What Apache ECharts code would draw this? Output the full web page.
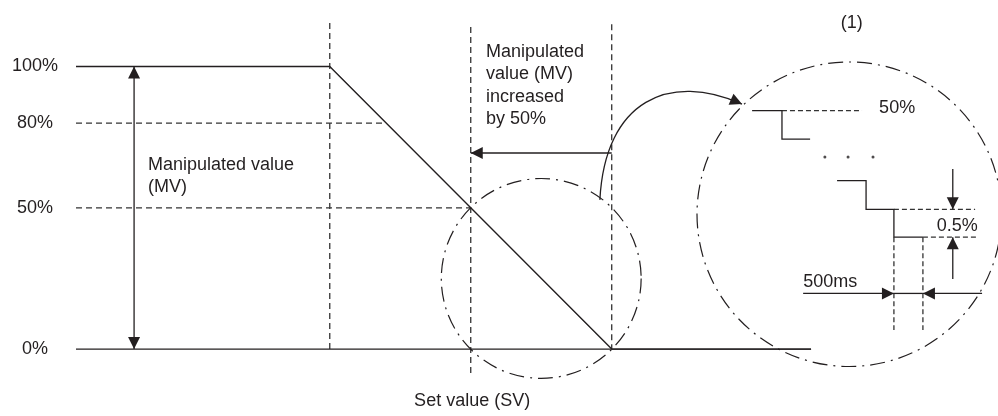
<!DOCTYPE html>
<html>
<head>
<meta charset="utf-8">
<script src="https://cdn.jsdelivr.net/npm/echarts@6/dist/echarts.min.js"></script>
<style>
html, body { margin: 0; padding: 0; background: #fff; }
#chart { width: 998px; height: 416px; }
</style>
</head>
<body>
<div id="chart"></div>
<script>
// ---- main diagram: x = time (ramp starts at 0), y = MV %
var mvTime  = [-90, 0, 100, 170.7];
var mvValue = [100, 100, 0, 0];
var baseTime  = [-90, 170.7];
var baseValue = [0, 0];
var yTicks  = [0, 50, 80, 100];

// dashed guide lines [x1, y1, x2, y2]
var guideMain = [
    [-90, 80, 19, 80],
    [-90, 50, 50, 50],
    [0, 115.4, 0, 0],
    [50, 114, 50, -8.5],
    [100, 115, 100, 0]
];
// arrows [x1, y1, x2, y2, both ends]
var arrowMain = [
    [-69.4, 0, -69.4, 100, 1],
    [100, 69.4, 50, 69.4, 0]
];
// dash-dot circle [cx, cy, r]
var circleMain = [[75, 25, 35.4]];
// curved arrow [x0, y0, cx1, cy1, cx2, cy2, x1, y1]
var curveMain = [[95.8, 52.8, 97.6, 88.2, 120.7, 98.1, 146.2, 86.7]];
// texts [x, y], with strings and alignments
var textMainPos   = [[-64.5, 61.2], [55.4, 93.2], [50.5, -18.4]];
var textMainStr   = ['Manipulated value\n(MV)', 'Manipulated\nvalue (MV)\nincreased\nby 50%', 'Set value (SV)'];
var textMainAlign = ['left', 'left', 'center'];

// ---- inset (1): one unit ~ one step
var stepLines = [
    [[1.90, 8.82], [2.93, 8.82], [2.93, 7.84], [3.90, 7.84]],
    [[4.83, 6.41], [5.83, 6.41], [5.83, 5.42], [6.79, 5.42], [6.79, 4.46], [7.79, 4.46]],
    [[6.79, 2.52], [7.79, 2.52]]
];
var guideInset = [
    [2.93, 8.82, 5.69, 8.82],
    [6.79, 5.42, 9.59, 5.42],
    [7.79, 4.46, 9.72, 4.46],
    [6.79, 4.46, 6.79, 1.26],
    [7.79, 4.46, 7.79, 1.26]
];
var dotsX = [4.41, 5.21, 6.07];
var dotsY = [7.22, 7.22, 7.22];
var arrowInset = [
    [8.82, 6.81, 8.82, 5.42, 0],
    [8.82, 3.02, 8.82, 4.46, 0],
    [3.66, 2.52, 6.79, 2.52, 0],
    [9.83, 2.52, 7.79, 2.52, 0]
];
var circleInset = [[5.25, 5.25, 5.25]];
var textInsetPos   = [[6.28, 8.90], [8.27, 4.86], [3.66, 2.91], [5.34, 11.86]];
var textInsetStr   = ['50%', '0.5%', '500ms', '(1)'];
var textInsetAlign = ['left', 'left', 'left', 'center'];

var ink = '#231f20';
var dashInk = '#333333';
var fontFam = '"Liberation Sans", Arial, sans-serif';

var chart = echarts.init(document.getElementById('chart'));

function zip(xs, ys) {
    var out = [];
    for (var i = 0; i < xs.length; i++) out.push([xs[i], ys[i]]);
    return out;
}

function arrowHead(from, to) {
    var dx = to[0] - from[0], dy = to[1] - from[1];
    var len = Math.sqrt(dx * dx + dy * dy);
    var ux = dx / len, uy = dy / len;
    var L = 12, W = 6;
    var bx = to[0] - ux * L, by = to[1] - uy * L;
    return {
        type: 'polygon',
        shape: { points: [[to[0], to[1]], [bx - uy * W, by + ux * W], [bx + uy * W, by - ux * W]] },
        style: { fill: ink }
    };
}

function segRender(list, dash) {
    return function (params, api) {
        var d = list[params.dataIndex];
        var a = api.coord([d[0], d[1]]), b = api.coord([d[2], d[3]]);
        return {
            type: 'line',
            shape: { x1: a[0], y1: a[1], x2: b[0], y2: b[1] },
            style: { stroke: dashInk, lineWidth: 1.3, lineDash: dash }
        };
    };
}

function arrowRender(list) {
    return function (params, api) {
        var d = list[params.dataIndex];
        var a = api.coord([d[0], d[1]]), b = api.coord([d[2], d[3]]);
        var kids = [{
            type: 'line',
            shape: { x1: a[0], y1: a[1], x2: b[0], y2: b[1] },
            style: { stroke: ink, lineWidth: 1.3 }
        }, arrowHead(a, b)];
        if (d[4]) kids.push(arrowHead(b, a));
        return { type: 'group', children: kids };
    };
}

function circleRender(list) {
    return function (params, api) {
        var d = list[params.dataIndex];
        var c = api.coord([d[0], d[1]]);
        var r = api.size([d[2], d[2]]);
        return {
            type: 'circle',
            shape: { cx: c[0], cy: c[1], r: (r[0] + r[1]) / 2 },
            style: { fill: 'none', stroke: ink, lineWidth: 1.2, lineDash: [15, 6, 2, 6] }
        };
    };
}

function textRender(pos, str, align) {
    return function (params, api) {
        var i = params.dataIndex;
        var p = api.coord(pos[i]);
        return {
            type: 'text',
            x: p[0], y: p[1],
            style: {
                text: str[i], fill: ink, font: '18px ' + fontFam,
                align: align[i], verticalAlign: 'middle', lineHeight: 22.5
            }
        };
    };
}

function polyRender(list) {
    return function (params, api) {
        var pts = list[params.dataIndex].map(function (p) { return api.coord(p); });
        return { type: 'polyline', shape: { points: pts }, style: { stroke: ink, lineWidth: 1.3, fill: 'none' } };
    };
}

function curveRender(params, api) {
    var d = curveMain[params.dataIndex];
    var p0 = api.coord([d[0], d[1]]), c1 = api.coord([d[2], d[3]]);
    var c2 = api.coord([d[4], d[5]]), p1 = api.coord([d[6], d[7]]);
    return {
        type: 'group',
        children: [{
            type: 'bezierCurve',
            shape: { x1: p0[0], y1: p0[1], cpx1: c1[0], cpy1: c1[1], cpx2: c2[0], cpy2: c2[1], x2: p1[0], y2: p1[1] },
            style: { stroke: ink, lineWidth: 1.3, fill: 'none' }
        }, arrowHead(c2, p1)]
    };
}

function hiddenAxis(extra) {
    var ax = {
        type: 'value',
        axisLine: { show: false }, axisTick: { show: false },
        splitLine: { show: false }, axisLabel: { show: false }
    };
    for (var k in extra) ax[k] = extra[k];
    return ax;
}

var option = {
    backgroundColor: '#fff',
    animation: false,
    grid: [
        { left: 76, right: 0, top: 10, bottom: 33, outerBoundsMode: 'none' },
        { left: 697, top: 62, width: 304.5, height: 304.5, outerBoundsMode: 'none' }
    ],
    xAxis: [
        hiddenAxis({ gridIndex: 0, min: -90, max: 237 }),
        hiddenAxis({ gridIndex: 1, min: 0, max: 10.5 })
    ],
    yAxis: [
        hiddenAxis({
            gridIndex: 0, min: -12, max: 120,
            axisLabel: {
                show: true, customValues: yTicks, formatter: '{value}%',
                align: 'center', margin: 41, color: ink, fontSize: 18, fontFamily: fontFam
            }
        }),
        hiddenAxis({ gridIndex: 1, min: 0, max: 10.5 })
    ],
    series: [
        { type: 'custom', xAxisIndex: 0, yAxisIndex: 0, data: guideMain, renderItem: segRender(guideMain, [6, 4]), silent: true, z: 1 },
        { type: 'custom', xAxisIndex: 0, yAxisIndex: 0, data: circleMain, renderItem: circleRender(circleMain), silent: true, z: 1 },
        {
            type: 'line', xAxisIndex: 0, yAxisIndex: 0,
            data: zip(baseTime, baseValue), showSymbol: false, silent: true, z: 3,
            lineStyle: { color: ink, width: 1.4 }
        },
        {
            type: 'line', xAxisIndex: 0, yAxisIndex: 0,
            data: zip(mvTime, mvValue), showSymbol: false, silent: true, z: 3,
            lineStyle: { color: ink, width: 1.4 }
        },
        { type: 'custom', xAxisIndex: 0, yAxisIndex: 0, data: arrowMain, renderItem: arrowRender(arrowMain), silent: true, z: 4 },
        { type: 'custom', xAxisIndex: 0, yAxisIndex: 0, data: curveMain, renderItem: curveRender, silent: true, z: 4 },
        { type: 'custom', xAxisIndex: 0, yAxisIndex: 0, data: textMainPos, renderItem: textRender(textMainPos, textMainStr, textMainAlign), silent: true, z: 5 },

        { type: 'custom', xAxisIndex: 1, yAxisIndex: 1, data: guideInset, renderItem: segRender(guideInset, [5, 3]), silent: true, z: 1 },
        { type: 'custom', xAxisIndex: 1, yAxisIndex: 1, data: circleInset, renderItem: circleRender(circleInset), silent: true, z: 1 },
        { type: 'custom', xAxisIndex: 1, yAxisIndex: 1, data: stepLines, renderItem: polyRender(stepLines), silent: true, z: 3 },
        {
            type: 'scatter', xAxisIndex: 1, yAxisIndex: 1, data: zip(dotsX, dotsY),
            symbol: 'circle', symbolSize: 3, itemStyle: { color: ink }, silent: true, z: 3
        },
        { type: 'custom', xAxisIndex: 1, yAxisIndex: 1, data: arrowInset, renderItem: arrowRender(arrowInset), silent: true, z: 4 },
        { type: 'custom', xAxisIndex: 1, yAxisIndex: 1, data: textInsetPos, renderItem: textRender(textInsetPos, textInsetStr, textInsetAlign), silent: true, z: 5 }
    ]
};

chart.setOption(option);
</script>
</body>
</html>
